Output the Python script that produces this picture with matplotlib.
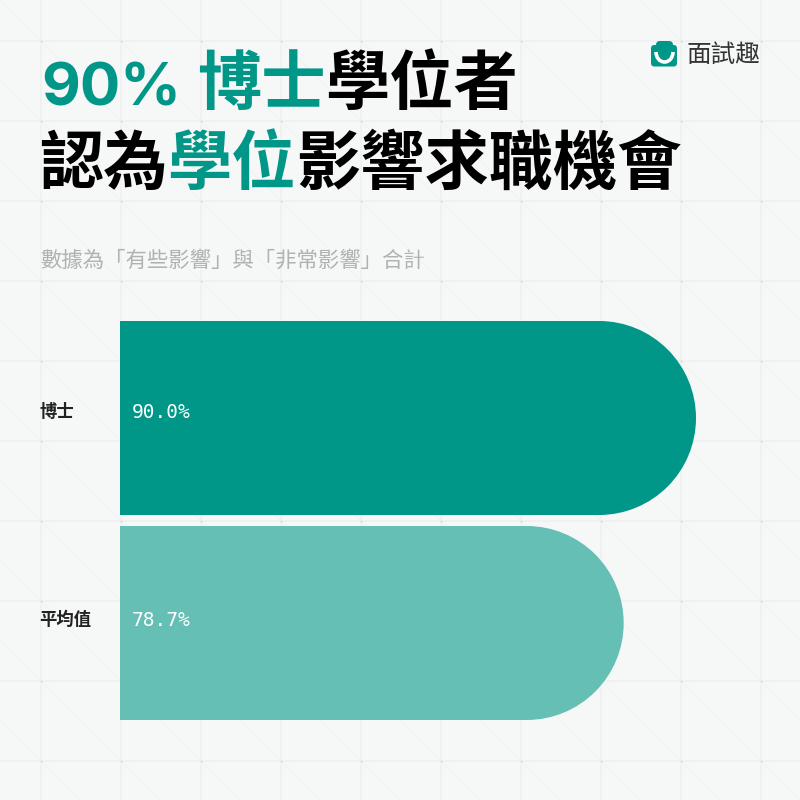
#!/usr/bin/env python3
"""Horizontal pill bars: share of PhD holders who say the degree affects job hunting."""

import matplotlib

matplotlib.use("Agg")
import matplotlib.pyplot as plt
import numpy as np
from matplotlib.patches import Arc, Ellipse, FancyBboxPatch

CJK = ["Noto Sans CJK TC", "DejaVu Sans"]
plt.rcParams["font.family"] = CJK

categories = ["博士", "平均值"]
values = [90.0, 78.7]
value_labels = ["90.0%", "78.7%"]
bar_colors = ["#009688", "#66BFB4"]

title_lead = "90%"
title_line1 = [("博士", "#009688"), ("學位者", "#000000")]
title_line2 = [("認為", "#000000"), ("學位", "#009688"), ("影響求職機會", "#000000")]
subtitle = "數據為「有些影響」與「非常影響」合計"
brand = "面試趣"

BG = "#F6F7F7"
GRID = "#F0F0F1"
SIZE = 800
TITLE_PT = 46.3

fig = plt.figure(figsize=(8, 8), dpi=100, facecolor=BG)

# full-canvas layer in pixel coords, y pointing down
bg = fig.add_axes([0, 0, 1, 1], zorder=0)
bg.set_xlim(0, SIZE)
bg.set_ylim(SIZE, 0)
bg.axis("off")

grid_pos = np.arange(41, SIZE, 80)
for off in np.arange(-800, 801, 80):
    bg.plot([0, SIZE], [-off, SIZE - off], color="#F1F2F2", lw=0.8, zorder=1)
for p in grid_pos:
    bg.axvline(p, color=GRID, lw=1.1, zorder=2)
    bg.axhline(p, color=GRID, lw=1.1, zorder=2)
gx, gy = np.meshgrid(grid_pos, grid_pos)
bg.scatter(gx.ravel(), gy.ravel(), s=1.5, color="#CFD0D1", linewidths=0, zorder=3)

# bars: 100% = 640 px, one category band = 205 px
PX_PER_UNIT = 6.4
BAND = 205
BAR_PX = 194
ax = fig.add_axes([120 / SIZE, 1 - 725.5 / SIZE, 640 / SIZE, 410 / SIZE], zorder=2)
ax.patch.set_alpha(0)
ax.set_xlim(0, 100)
ax.set_ylim(1.5, -0.5)
ax.axis("off")

y_pos = np.arange(len(categories))
bar_h = BAR_PX / BAND
rx = BAR_PX / 2 / PX_PER_UNIT
ax.barh(y_pos, np.array(values) - rx, height=bar_h, color=bar_colors, linewidth=0)

# the labels sit a little above the bar centres in the original
label_lift = [6 / BAND, 3 / BAND]
for y, v, c, name, lab, lift in zip(y_pos, values, bar_colors, categories, value_labels, label_lift):
    ax.add_patch(Ellipse((v - rx, y), 2 * rx, bar_h, facecolor=c, edgecolor="none"))
    ax.text(1.8, y - lift + 1 / BAND, lab, color="#FFFFFF", va="center", ha="left",
            fontsize=14, family="DejaVu Sans Mono")
    ax.text(-12.6, y - lift, name, color="#222222", va="center", ha="left",
            fontsize=12.5, fontweight="bold")


def chain(parts, x, y):
    # CJK runs advance one em per character
    em = TITLE_PT * 100 / 72
    for s, c in parts:
        bg.text(x, y, s, color=c, va="baseline", ha="left", fontsize=TITLE_PT,
                fontweight="bold", family=CJK)
        x += em * len(s)


bg.text(41, 106, title_lead, color="#009688", va="baseline", ha="left", fontsize=43,
        fontweight="bold", family=["Inter", "Noto Sans CJK TC"])
chain(title_line1, 197, 104)
chain(title_line2, 39, 184)

bg.text(40, 261, subtitle, fontsize=15.4, color="#B0B1B2", va="center", ha="left")

# brand mark
bg.add_patch(FancyBboxPatch((656, 41), 17, 12, boxstyle="round,pad=0,rounding_size=4",
                            facecolor="#009688", edgecolor="none", zorder=5))
bg.add_patch(FancyBboxPatch((651, 45), 26, 21.5, boxstyle="round,pad=0,rounding_size=3.5",
                            facecolor="#009688", edgecolor="none", zorder=5))
bg.add_patch(Arc((664.5, 52), 17, 20, theta1=0, theta2=180, edgecolor="#FFFFFF", lw=2.6, zorder=6))
bg.text(687, 55, brand, fontsize=17.7, color="#333333", va="center", ha="left", fontweight="medium")

fig.savefig("out.png", dpi=100, facecolor=BG)
